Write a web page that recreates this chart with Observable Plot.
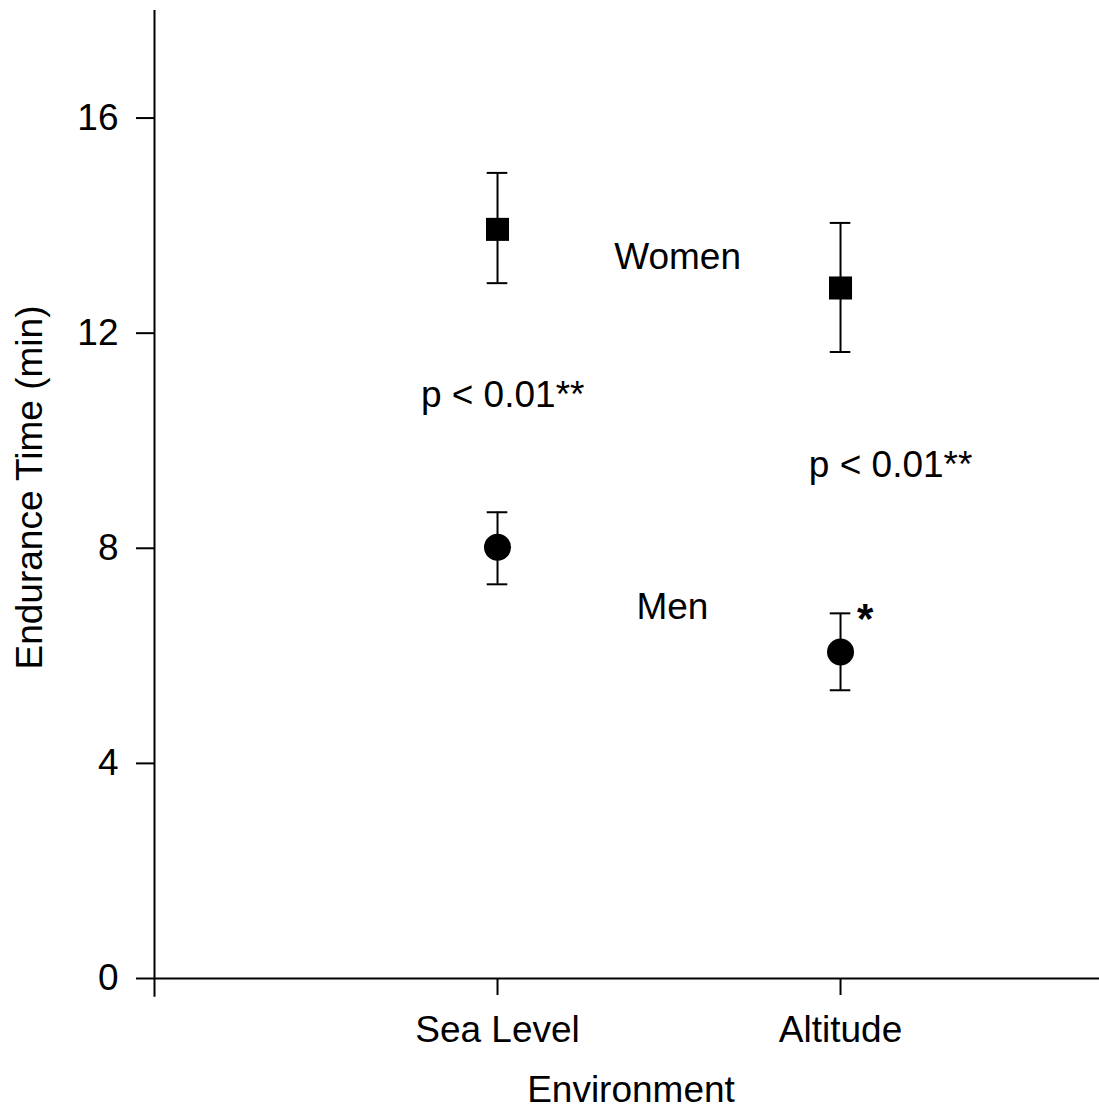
<!DOCTYPE html>
<html>
<head>
<meta charset="utf-8">
<script src="https://cdn.jsdelivr.net/npm/d3@7"></script>
<script src="https://cdn.jsdelivr.net/npm/@observablehq/plot@0.6"></script>
<style>
  html, body { margin: 0; padding: 0; background: #fff; }
</style>
</head>
<body>
<div id="chart"></div>
<script>
// ---- data ----
const environments = ["Sea Level", "Altitude"];
const envPositions = [1, 2];
const womenMean = [13.93, 12.84];
const womenLow  = [12.93, 11.65];
const womenHigh = [14.98, 14.05];
const menMean = [8.02, 6.07];
const menLow  = [7.33, 5.36];
const menHigh = [8.67, 6.79];
const yTicks = [0, 4, 8, 12, 16];
const yLabel = "Endurance Time (min)";
const xLabel = "Environment";

const annotations = [
  {x: 1.525, y: 13.41, text: "Women"},
  {x: 1.51,  y: 6.90,  text: "Men"},
  {x: 1.015, y: 10.85, text: "p < 0.01**"},
  {x: 2.146, y: 9.54,  text: "p < 0.01**"}
];
const starNote = [{x: 2.072, y: 6.68, text: "*"}];

const women = environments.map((e, i) => ({env: e, x: envPositions[i], mean: womenMean[i], lo: womenLow[i], hi: womenHigh[i]}));
const men   = environments.map((e, i) => ({env: e, x: envPositions[i], mean: menMean[i], lo: menLow[i], hi: menHigh[i]}));
const all = women.concat(men);
const cap = 0.03;

const font = "'Liberation Sans', Arial, sans-serif";

const chart = Plot.plot({
  width: 1099,
  height: 1111,
  marginLeft: 154,
  marginRight: 0,
  marginTop: 10,
  marginBottom: 133,
  style: {fontFamily: font, fontSize: "37px", color: "#000", background: "#fff"},
  x: {domain: [0, 2.755]},
  y: {domain: [0, 18]},
  marks: [
    Plot.axisY({ticks: yTicks, tickSize: 18, tickPadding: 18, strokeWidth: 2, label: null}),
    Plot.axisX({ticks: envPositions, tickFormat: d => environments[envPositions.indexOf(d)], tickSize: 17, tickPadding: 20, strokeWidth: 2, label: null}),
    Plot.text([yLabel], {frameAnchor: "left", textAnchor: "middle", lineAnchor: "middle", dx: -124, dy: -7, rotate: -90, fontSize: 37, fill: "#000"}),
    Plot.text([xLabel], {frameAnchor: "bottom", textAnchor: "middle", dx: 4, dy: 123, fontSize: 37, fill: "#000"}),
    Plot.ruleX([0], {y1: -0.35, y2: 18, stroke: "#000", strokeWidth: 2}),
    Plot.ruleY([0], {x1: 0, x2: 2.755, stroke: "#000", strokeWidth: 2}),
    Plot.ruleX(all, {x: "x", y1: "lo", y2: "hi", stroke: "#000", strokeWidth: 2}),
    Plot.ruleY(all, {y: "lo", x1: d => d.x - cap, x2: d => d.x + cap, stroke: "#000", strokeWidth: 2}),
    Plot.ruleY(all, {y: "hi", x1: d => d.x - cap, x2: d => d.x + cap, stroke: "#000", strokeWidth: 2}),
    Plot.dot(women, {x: "x", y: "mean", symbol: "square", r: 13, fill: "#000", stroke: "none"}),
    Plot.dot(men, {x: "x", y: "mean", symbol: "circle", r: 13.5, fill: "#000", stroke: "none"}),
    Plot.text(annotations, {x: "x", y: "y", text: "text", fontSize: 37, fill: "#000"}),
    Plot.text(starNote, {x: "x", y: "y", text: "text", fontSize: 42, fontWeight: "bold", fill: "#000"})
  ]
});
document.getElementById("chart").appendChild(chart);
</script>
</body>
</html>
